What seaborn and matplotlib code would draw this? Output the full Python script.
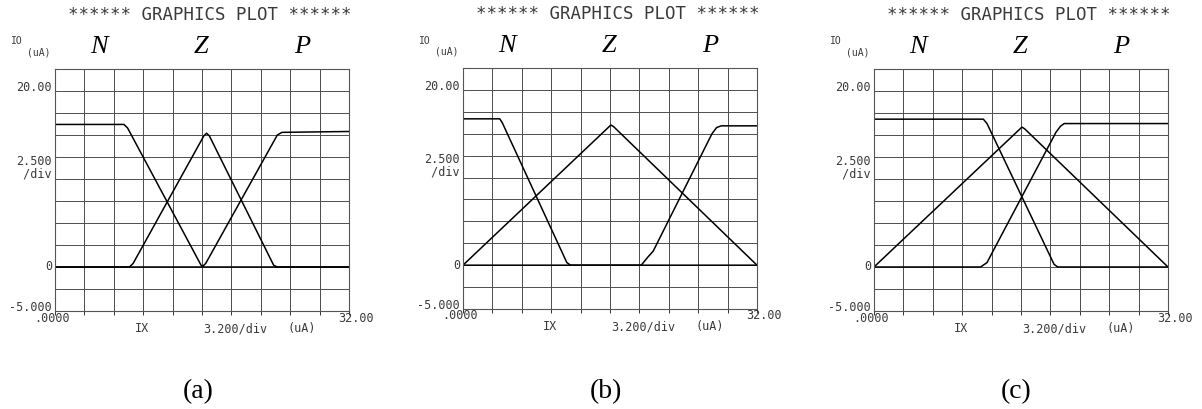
import matplotlib
matplotlib.use("Agg")
import matplotlib.pyplot as plt
import seaborn as sns
import pandas as pd
import numpy as np

# ---- data ----
a_N_x = [0.0, 7.5, 7.9, 15.9, 16.2, 32.0]
a_N_y = [16.2, 16.2, 15.8, 0.2, 0.0, 0.0]
a_Z_x = [0.0, 8.1, 8.5, 16.2, 16.5, 16.8, 23.8, 24.2, 32.0]
a_Z_y = [0.0, 0.0, 0.4, 14.9, 15.2, 14.9, 0.2, 0.0, 0.0]
a_P_x = [0.0, 16.0, 16.4, 24.2, 24.7, 32.0]
a_P_y = [0.0, 0.0, 0.4, 15.0, 15.3, 15.4]

b_N_x = [0.0, 4.0, 4.3, 11.3, 11.7, 32.0]
b_N_y = [16.7, 16.7, 16.2, 0.3, 0.0, 0.0]
b_Z_x = [0.0, 15.9, 16.1, 16.4, 31.9, 32.0]
b_Z_y = [0.0, 15.8, 16.0, 15.8, 0.1, 0.0]
b_P_x = [0.0, 19.4, 20.1, 20.7, 27.1, 27.6, 28.1, 32.0]
b_P_y = [0.0, 0.0, 0.9, 1.6, 15.0, 15.7, 15.9, 15.9]

c_N_x = [0.0, 11.9, 12.3, 19.6, 20.0, 32.0]
c_N_y = [16.8, 16.8, 16.3, 0.3, 0.0, 0.0]
c_Z_x = [0.0, 15.9, 16.1, 16.4, 31.7, 32.0]
c_Z_y = [0.0, 15.7, 15.9, 15.7, 0.3, 0.0]
c_P_x = [0.0, 11.6, 12.3, 12.7, 19.8, 20.3, 20.7, 32.0]
c_P_y = [0.0, 0.0, 0.5, 1.3, 15.3, 16.0, 16.3, 16.3]

panels = [
    ("(a)", [(a_N_x, a_N_y), (a_Z_x, a_Z_y), (a_P_x, a_P_y)]),
    ("(b)", [(b_N_x, b_N_y), (b_Z_x, b_Z_y), (b_P_x, b_P_y)]),
    ("(c)", [(c_N_x, c_N_y), (c_Z_x, c_Z_y), (c_P_x, c_P_y)]),
]
set_labels = ["N", "Z", "P"]
set_label_pos = [0.15, 0.497, 0.84]
title_text = "****** GRAPHICS PLOT ******"
ytick_vals = [20.0, 0.0, -5.0]
ytick_labels = ["20.00", "0", "-5.000"]

sns.set_theme(style="white")
plt.rcParams["font.family"] = ["DejaVu Sans Mono", "DejaVu Sans"]

fig = plt.figure(figsize=(12.02, 4.09), dpi=100)
W, H = 1202, 409
boxes = [(55, 69, 349, 311), (463, 68, 757, 309), (874, 69, 1168, 311)]
label_x = [198, 606, 1016]

mono = "DejaVu Sans Mono"
serif = "Liberation Serif"
txt_col = "#3a3a3a"

for (label, curves), (l, t, r, b), lx in zip(panels, boxes, label_x):
    ax = fig.add_axes([l / W, 1 - b / H, (r - l) / W, (b - t) / H])
    for (xs, ys) in curves:
        df = pd.DataFrame({"x": xs, "y": ys})
        sns.lineplot(data=df, x="x", y="y", ax=ax, sort=False, color="black",
                     linewidth=1.1, estimator=None)
    ax.set_xlim(0, 32)
    ax.set_ylim(-5, 22.5)
    ax.set_xticks(np.arange(0, 32.01, 3.2))
    ax.set_yticks(np.arange(-5, 22.51, 2.5))
    ax.grid(True, color="#4d4d4d", linewidth=0.7)
    ax.set_xticklabels([])
    ax.set_yticklabels([])
    ax.tick_params(axis="x", bottom=True, length=3, width=0.7, color="#333333", direction="out")
    ax.tick_params(axis="y", left=False)
    ax.set_xlabel("")
    ax.set_ylabel("")
    for s in ax.spines.values():
        s.set_color("#555555")
        s.set_linewidth(0.8)
    ax.set_facecolor("white")

    tr = ax.transAxes
    ax.text(0.528, 1.223, title_text, transform=tr, ha="center", va="center",
            fontsize=12.5, family=mono, color=txt_col)
    for name, xp in zip(set_labels, set_label_pos):
        ax.text(xp, 1.091, name, transform=tr, ha="center", va="center",
                fontsize=19, family=serif, style="italic", color="black")
    ax.text(-0.131, 1.114, "IO", transform=tr, ha="center", va="center",
            fontsize=7, family=mono, color=txt_col)
    ax.text(-0.056, 1.07, "(uA)", transform=tr, ha="center", va="center",
            fontsize=7, family=mono, color=txt_col)
    blend = matplotlib.transforms.blended_transform_factory(ax.transAxes, ax.transData)
    for v, s in zip(ytick_vals, ytick_labels):
        va = "center" if v == 0 else "bottom"
        ax.text(-0.01, v - (0.3 if v != 0 else 0), s, transform=blend, ha="right", va=va,
                fontsize=8.5, family=mono, color=txt_col)
    ax.text(-0.01, 11.3, "2.500\n /div", transform=blend, ha="right", va="center",
            fontsize=8.5, family=mono, color=txt_col, linespacing=0.95)
    ax.text(-0.01, -0.029, ".0000", transform=tr, ha="center", va="center",
            fontsize=8.5, family=mono, color=txt_col)
    ax.text(1.024, -0.029, "32.00", transform=tr, ha="center", va="center",
            fontsize=8.5, family=mono, color=txt_col)
    ax.text(0.295, -0.074, "IX", transform=tr, ha="center", va="center",
            fontsize=8.5, family=mono, color=txt_col)
    ax.text(0.612, -0.074, "3.200/div", transform=tr, ha="center", va="center",
            fontsize=8.5, family=mono, color=txt_col)
    ax.text(0.839, -0.074, "(uA)", transform=tr, ha="center", va="center",
            fontsize=8.5, family=mono, color=txt_col)
    fig.text(lx / W, 1 - 392 / H, label, ha="center", va="center",
             fontsize=20, family=serif, color="black")

fig.savefig("out.png", dpi=100, facecolor="white")
